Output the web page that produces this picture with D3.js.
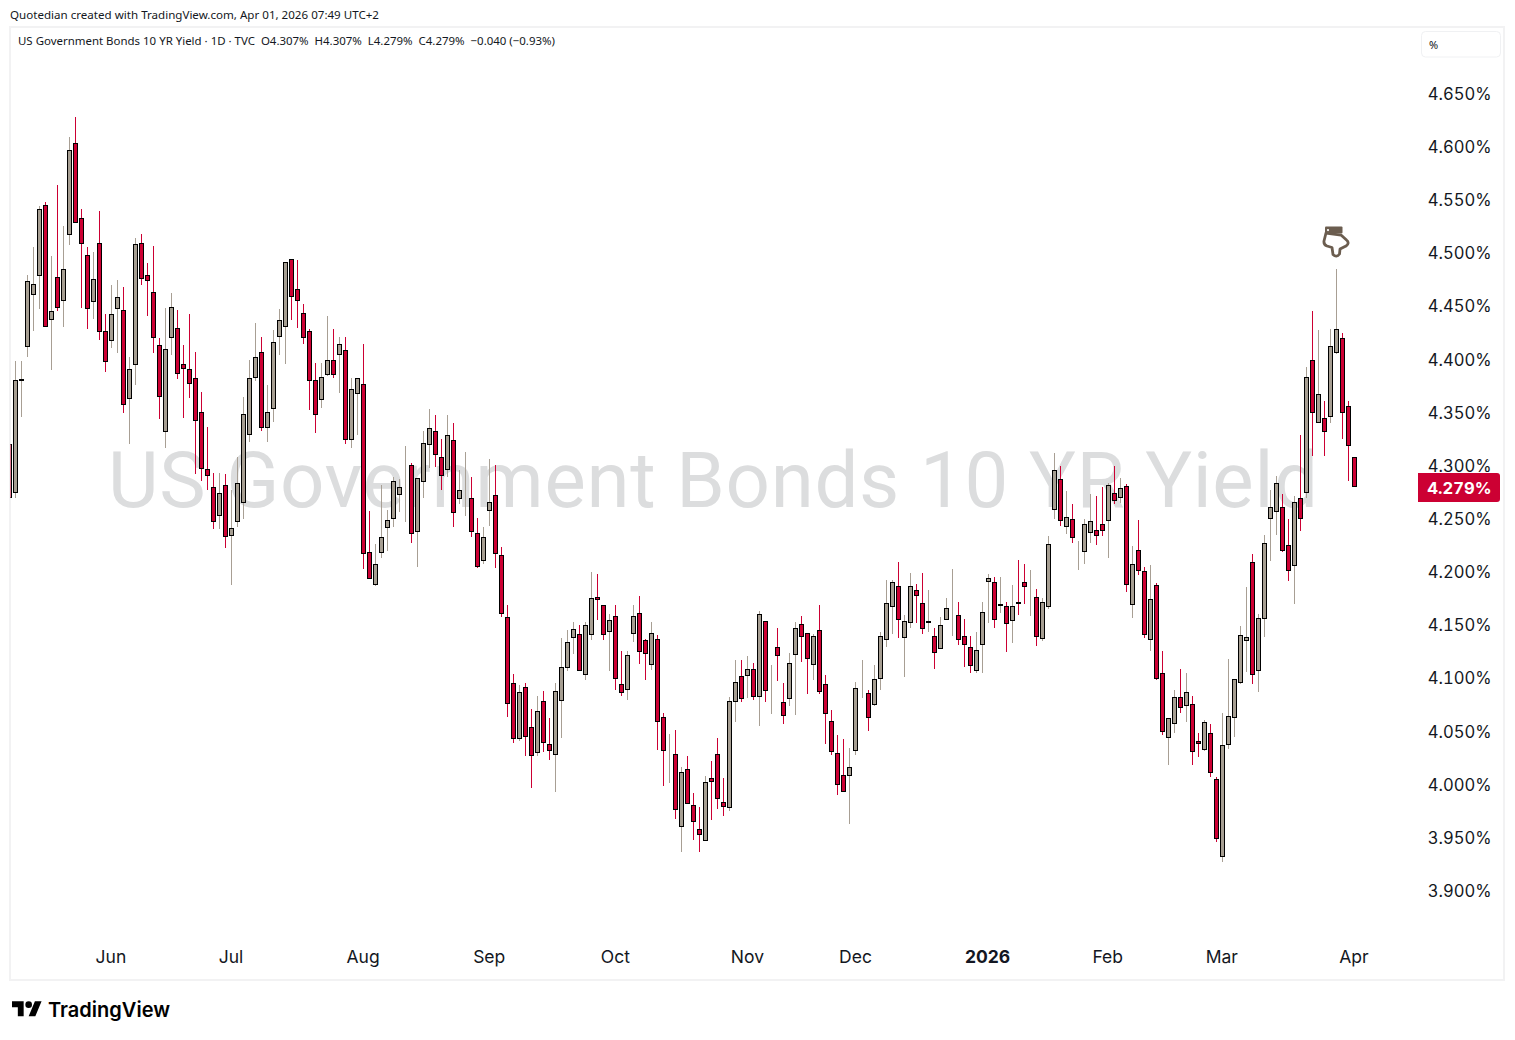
<!DOCTYPE html>
<html><head><meta charset="utf-8">
<style>html,body{margin:0;padding:0;background:#fff}svg{display:block}text{font-family:"Noto Sans",sans-serif}</style>
<script src="https://cdnjs.cloudflare.com/ajax/libs/d3/7.8.5/d3.min.js"></script>
</head><body><div id="c"></div>
<script>
const highs=[4.320,
4.398,4.398,4.479,4.505,4.544,4.547,4.497,4.563,4.525,4.609,
4.627,4.541,4.505,4.500,4.539,4.442,4.469,4.474,4.467,4.402,
4.514,4.517,4.490,4.506,4.419,4.448,4.462,4.446,4.413,4.442,
4.406,4.369,4.336,4.292,4.292,4.291,4.276,4.307,4.364,4.399,
4.434,4.420,4.375,4.427,4.447,4.491,4.494,4.493,4.451,4.428,
4.396,4.396,4.440,4.428,4.420,4.420,4.382,4.382,4.414,4.257,
4.226,4.281,4.258,4.289,4.287,4.318,4.302,4.288,4.332,4.353,
4.347,4.324,4.347,4.339,4.295,4.312,4.289,4.250,4.242,4.306,
4.300,4.223,4.168,4.103,4.093,4.095,4.070,4.083,4.087,4.062,
4.095,4.137,4.145,4.152,4.149,4.152,4.199,4.197,4.168,4.160,
4.168,4.125,4.125,4.168,4.177,4.136,4.152,4.140,4.067,4.047,
4.051,4.016,4.026,3.991,3.978,4.007,4.021,4.043,4.005,4.082,
4.116,4.116,4.120,4.114,4.163,4.153,4.112,4.147,4.095,4.123,
4.152,4.158,4.142,4.141,4.168,4.102,4.069,4.046,4.042,4.034,
4.096,4.116,4.088,4.112,4.143,4.192,4.192,4.209,4.159,4.198,
4.188,4.198,4.182,4.147,4.157,4.175,4.202,4.171,4.155,4.139,
4.143,4.171,4.197,4.195,4.195,4.171,4.187,4.211,4.207,4.201,
4.183,4.175,4.233,4.311,4.299,4.275,4.263,4.228,4.249,4.273,
4.271,4.279,4.283,4.299,4.288,4.282,4.224,4.248,4.204,4.206,
4.189,4.125,4.062,4.088,4.108,4.104,4.083,4.048,4.060,4.056,
4.006,4.067,4.117,4.099,4.148,4.185,4.216,4.160,4.234,4.276,
4.290,4.273,4.249,4.271,4.328,4.392,4.445,4.427,4.360,4.428,
4.484,4.424,4.360,4.307];
const lows=[4.269,
4.269,4.345,4.402,4.426,4.447,4.430,4.389,4.445,4.430,4.507,
4.528,4.448,4.428,4.437,4.418,4.387,4.410,4.405,4.349,4.320,
4.375,4.469,4.440,4.405,4.343,4.316,4.403,4.381,4.344,4.363,
4.291,4.285,4.276,4.240,4.240,4.222,4.187,4.242,4.249,4.322,
4.379,4.332,4.322,4.340,4.403,4.395,4.436,4.429,4.414,4.352,
4.330,4.354,4.384,4.382,4.368,4.320,4.316,4.328,4.202,4.193,
4.186,4.212,4.219,4.242,4.256,4.246,4.227,4.204,4.269,4.297,
4.298,4.276,4.289,4.242,4.263,4.252,4.232,4.203,4.207,4.243,
4.203,4.157,4.063,4.038,4.040,4.026,3.996,4.026,4.030,4.022,
3.992,4.043,4.106,4.122,4.106,4.098,4.135,4.154,4.135,4.106,
4.088,4.083,4.079,4.133,4.113,4.098,4.107,4.032,3.998,4.001,
3.967,3.936,3.981,3.947,3.936,3.946,3.966,3.976,3.970,3.974,
4.058,4.077,4.081,4.079,4.054,4.077,4.066,4.097,4.056,4.073,
4.065,4.115,4.084,4.098,4.084,4.037,4.027,3.989,3.992,3.962,
4.027,4.081,4.050,4.073,4.088,4.129,4.141,4.137,4.100,4.147,
4.151,4.141,4.143,4.108,4.127,4.154,4.139,4.131,4.110,4.104,
4.104,4.104,4.151,4.147,4.161,4.124,4.132,4.159,4.169,4.158,
4.130,4.134,4.164,4.249,4.243,4.235,4.227,4.201,4.207,4.227,
4.225,4.233,4.212,4.263,4.264,4.180,4.156,4.196,4.137,4.125,
4.098,4.046,4.018,4.048,4.067,4.058,4.018,4.025,4.031,4.006,
3.945,3.926,4.033,4.044,4.094,4.105,4.094,4.086,4.138,4.210,
4.234,4.218,4.191,4.169,4.238,4.269,4.308,4.339,4.308,4.339,
4.404,4.324,4.285,4.279];
const opens=[4.320,
4.274,4.379,4.411,4.460,4.478,4.545,4.436,4.477,4.454,4.516,
4.603,4.532,4.498,4.453,4.509,4.426,4.417,4.447,4.446,4.362,
4.394,4.509,4.479,4.463,4.413,4.331,4.419,4.429,4.395,4.390,
4.382,4.350,4.296,4.279,4.252,4.281,4.233,4.246,4.264,4.328,
4.382,4.406,4.335,4.353,4.420,4.430,4.494,4.466,4.443,4.426,
4.380,4.361,4.385,4.399,4.403,4.408,4.323,4.367,4.376,4.218,
4.187,4.217,4.241,4.249,4.272,4.288,4.300,4.237,4.284,4.319,
4.332,4.307,4.295,4.323,4.268,4.265,4.269,4.236,4.210,4.257,
4.272,4.215,4.157,4.095,4.042,4.091,4.053,4.029,4.078,4.037,
4.027,4.078,4.109,4.137,4.141,4.102,4.140,4.176,4.168,4.143,
4.158,4.094,4.088,4.141,4.161,4.135,4.112,4.136,4.063,4.028,
4.028,3.959,4.014,3.980,3.957,3.946,4.005,4.028,3.983,3.977,
4.077,4.101,4.101,4.108,4.082,4.153,4.093,4.129,4.077,4.080,
4.121,4.150,4.142,4.112,4.145,4.094,4.059,4.029,4.008,4.007,
4.031,4.090,4.085,4.074,4.099,4.135,4.166,4.186,4.137,4.151,
4.182,4.170,4.151,4.139,4.127,4.154,4.167,4.159,4.139,4.129,
4.106,4.131,4.190,4.190,4.167,4.167,4.153,4.171,4.190,4.175,
4.176,4.136,4.166,4.258,4.287,4.242,4.249,4.212,4.218,4.236,
4.239,4.244,4.247,4.274,4.269,4.280,4.168,4.220,4.200,4.135,
4.187,4.104,4.043,4.056,4.082,4.073,4.075,4.040,4.032,4.048,
4.004,3.931,4.036,4.062,4.095,4.134,4.209,4.106,4.155,4.249,
4.256,4.260,4.225,4.205,4.269,4.274,4.399,4.339,4.344,4.345,
4.405,4.419,4.355,4.307];
const closes=[4.269,
4.380,4.381,4.473,4.470,4.541,4.430,4.445,4.448,4.484,4.596,
4.528,4.508,4.447,4.475,4.425,4.397,4.442,4.458,4.356,4.390,
4.508,4.475,4.473,4.419,4.364,4.409,4.449,4.386,4.390,4.376,
4.341,4.296,4.290,4.246,4.274,4.232,4.241,4.283,4.348,4.382,
4.402,4.335,4.350,4.416,4.436,4.491,4.458,4.454,4.419,4.379,
4.347,4.383,4.399,4.385,4.414,4.323,4.371,4.382,4.216,4.193,
4.207,4.232,4.248,4.285,4.279,4.288,4.235,4.288,4.321,4.335,
4.309,4.290,4.328,4.255,4.276,4.265,4.237,4.204,4.232,4.265,
4.216,4.160,4.075,4.042,4.086,4.044,4.026,4.068,4.038,4.031,
4.087,4.110,4.133,4.146,4.106,4.149,4.175,4.173,4.140,4.154,
4.099,4.085,4.121,4.158,4.124,4.122,4.142,4.058,4.031,4.028,
3.975,4.011,3.981,3.964,3.952,4.002,4.002,3.986,3.978,4.078,
4.096,4.080,4.108,4.082,4.160,4.087,4.093,4.120,4.064,4.114,
4.147,4.138,4.117,4.139,4.086,4.066,4.030,3.999,3.992,4.016,
4.090,4.090,4.062,4.099,4.139,4.170,4.190,4.154,4.153,4.186,
4.177,4.146,4.153,4.123,4.149,4.165,4.167,4.135,4.131,4.111,
4.126,4.162,4.194,4.154,4.169,4.150,4.167,4.169,4.185,4.175,
4.138,4.171,4.226,4.295,4.247,4.251,4.231,4.212,4.244,4.247,
4.233,4.238,4.281,4.266,4.278,4.187,4.207,4.200,4.140,4.174,
4.099,4.049,4.062,4.082,4.071,4.086,4.030,4.037,4.058,4.010,
3.948,4.036,4.064,4.099,4.140,4.138,4.102,4.156,4.227,4.260,
4.283,4.219,4.200,4.265,4.249,4.383,4.349,4.367,4.331,4.412,
4.428,4.349,4.318,4.279];
const priceTicks=[4.65,4.6,4.55,4.5,4.45,4.4,4.35,4.3,4.25,4.2,4.15,4.1,4.05,4,3.95,3.9];
const timeLabels=["Jun","Jul","Aug","Sep","Oct","Nov","Dec","2026","Feb","Mar","Apr"];
const timeIndex=[17,37,59,80,101,123,141,163,183,202,224];
const lastPrice=4.279, markerIndex=221, markerPrice=4.5107;
const upColor="#a69e92", downColor="#cc0033", wickUp="#a89f94", ink="#131722";
const axisFont='Inter,sans-serif';

const W=1515,H=1040;
const svg=d3.select("#c").append("svg").attr("width",W).attr("height",H);
const x=d3.scaleLinear().domain([0,224]).range([9.37,1354.37]);
const y=d3.scaleLinear().domain([3.9,4.65]).range([890,93]);
const col=i=>Math.floor(x(i));
const rowY=v=>Math.round(y(v));

svg.append("rect").attr("x",10).attr("y",27).attr("width",1494).attr("height",953).attr("fill","#fff").attr("stroke","#f2f2f3").attr("stroke-width",2);
svg.append("defs").append("clipPath").attr("id","clip").append("rect").attr("x",10.5).attr("y",28).attr("width",1400).attr("height",950);

svg.append("text").attr("x",10).attr("y",18.5).attr("font-size",11.5).attr("fill",ink).attr("textLength",369).attr("lengthAdjust","spacingAndGlyphs")
 .text("Quotedian created with TradingView.com, Apr 01, 2026 07:49 UTC+2");
svg.append("text").attr("x",18).attr("y",45).attr("font-size",11.5).attr("fill",ink).attr("textLength",537).attr("lengthAdjust","spacingAndGlyphs")
 .attr("xml:space","preserve").text("US Government Bonds 10 YR Yield · 1D · TVC  O4.307%  H4.307%  L4.279%  C4.279%  −0.040 (−0.93%)");

svg.append("text").attr("x",713).attr("y",507).attr("text-anchor","middle").attr("font-size",78).attr("fill","#dcddde")
 .style("font-family","Roboto,sans-serif").style("font-weight",400)
 .attr("textLength",1210).attr("lengthAdjust","spacing").text("US Government Bonds 10 YR Yield");

const plot=svg.append("g").attr("clip-path","url(#clip)");
const idx=d3.range(highs.length);
const isDown=i=>closes[i]<opens[i];
plot.selectAll("rect.wick").data(idx).join("rect").attr("class","wick")
 .attr("x",col).attr("width",1)
 .attr("y",i=>rowY(highs[i])).attr("height",i=>Math.max(0,rowY(lows[i])-rowY(highs[i])))
 .attr("fill",i=>isDown(i)?downColor:wickUp);
plot.selectAll("rect.body").data(idx).join("rect").attr("class","body")
 .attr("x",i=>col(i)-1.5).attr("width",4)
 .attr("y",i=>rowY(Math.max(opens[i],closes[i]))+.5)
 .attr("height",i=>Math.max(0,rowY(Math.min(opens[i],closes[i]))-rowY(Math.max(opens[i],closes[i]))-1))
 .attr("fill",i=>isDown(i)?downColor:upColor).attr("stroke","#000").attr("stroke-width",1);

const yAxis=d3.axisRight(y).tickValues(priceTicks).tickSize(0).tickPadding(0).tickFormat(d=>d3.format(".3f")(d)+"%");
const ga=svg.append("g").attr("transform","translate(1491.5,0.6)").call(yAxis);
ga.select(".domain").remove();
ga.selectAll("text").attr("text-anchor","end").attr("font-size",16.6).attr("fill",ink).style("font-family",axisFont)
 .style("font-variant-numeric","tabular-nums").attr("dy","0.35em");

svg.append("g").selectAll("text").data(timeLabels).join("text")
 .attr("x",(d,i)=>x(timeIndex[i])-.5).attr("y",962.6).attr("text-anchor","middle").attr("font-size",17.5)
 .style("font-family",axisFont)
 .attr("fill",ink).attr("font-weight",d=>d==="2026"?700:400).text(d=>d);

svg.append("path").attr("d","M1418,473H1497a3,3 0 0 1 3,3V499a3,3 0 0 1 -3,3H1418Z").attr("fill",downColor);
svg.append("text").attr("x",1491.5).attr("y",y(lastPrice)+7).attr("text-anchor","end").attr("font-size",16.6).attr("font-weight",700).attr("fill","#fff")
 .style("font-family",axisFont).style("font-variant-numeric","tabular-nums").text(d3.format(".3f")(lastPrice)+"%");

svg.append("rect").attr("x",1421.5).attr("y",31.5).attr("width",79).attr("height",25.5).attr("rx",4).attr("fill","#fff").attr("stroke","#f0f1f3");
svg.append("text").attr("x",1429).attr("y",49).attr("font-size",11).attr("fill",ink).text("%");

const m=svg.append("g").attr("transform",`translate(${col(markerIndex)},${y(markerPrice)})`);
m.append("path").attr("d","M-10,-8 L-12,0 Q-12.5,3.5 -9,5 L-4,6.5 L-3,13.5 Q0.5,17 3.5,13 L4,8 L10,5 Q14,2 10.5,-1 L5,-6 Z")
 .attr("fill","#fff").attr("stroke","#6b5d4f").attr("stroke-width",2.8).attr("stroke-linejoin","round");
m.append("rect").attr("x",-11).attr("y",-14.5).attr("width",17.5).attr("height",7).attr("rx",1).attr("fill","#6b5d4f");
m.append("circle").attr("cx",-8).attr("cy",-11).attr("r",1.1).attr("fill","#fff");

const logo=svg.append("g").attr("transform","translate(12,998) scale(.833)").attr("fill","#000");
logo.append("path").attr("d","M14 22H7V11H0V4h14v18zM28 22h-8l7.5-18h8L28 22z");
logo.append("circle").attr("cx",20).attr("cy",8).attr("r",4);
svg.append("text").attr("x",48).attr("y",1017).attr("font-size",20.5).attr("font-weight",600).attr("fill","#000")
 .style("font-family",axisFont).attr("textLength",122).attr("lengthAdjust","spacingAndGlyphs").text("TradingView");
</script></body></html>
